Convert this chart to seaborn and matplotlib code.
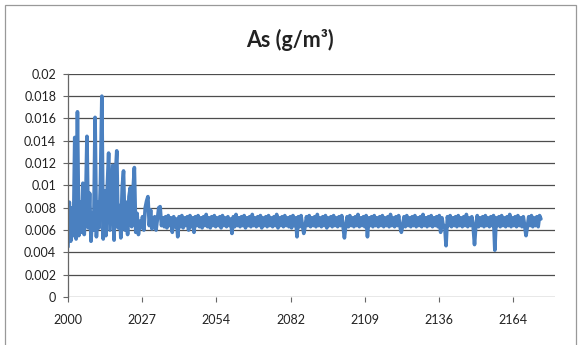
import matplotlib
matplotlib.use("Agg")
import matplotlib.pyplot as plt
import pandas as pd
import seaborn as sns

# As concentration (g/m3), half-yearly readings from 2000 onward
as_conc = [
    0.0045, 0.0085, 0.0050, 0.0080, 0.0055, 0.0143, 0.0052, 0.0166, 0.0055, 0.0085,
    0.0058, 0.0102, 0.0056, 0.0080, 0.0144, 0.0062, 0.0093, 0.0050, 0.0075, 0.0060,
    0.0161, 0.0054, 0.0085, 0.0062, 0.0105, 0.0180, 0.0052, 0.0095, 0.0055, 0.0098,
    0.0129, 0.0060, 0.0090, 0.0118, 0.0051, 0.0108, 0.0131, 0.0062, 0.0082, 0.0053,
    0.0098, 0.0113, 0.0060, 0.0085, 0.0056, 0.0090, 0.0098, 0.0063, 0.0095, 0.0116,
    0.0058, 0.0075, 0.0056, 0.0068, 0.0062, 0.0072, 0.0060, 0.0080, 0.0086, 0.0090,
    0.0064, 0.0078, 0.0061, 0.0066, 0.0072, 0.0060, 0.0070, 0.0080, 0.0081, 0.0064,
    0.0071, 0.0063, 0.0072, 0.0062, 0.0073, 0.0064, 0.0071, 0.0058, 0.0072, 0.0063,
    0.0070, 0.0054, 0.0072, 0.0063, 0.0073, 0.0062, 0.0071, 0.0064, 0.0072, 0.0060,
    0.0073, 0.0063, 0.0071, 0.0058, 0.0072, 0.0064, 0.0073, 0.0063, 0.0071, 0.0062,
    0.0072, 0.0064, 0.0074, 0.0063, 0.0071, 0.0062, 0.0072, 0.0064, 0.0073, 0.0063,
    0.0071, 0.0064, 0.0072, 0.0062, 0.0073, 0.0064, 0.0071, 0.0063, 0.0072, 0.0064,
    0.0070, 0.0057, 0.0072, 0.0063, 0.0074, 0.0064, 0.0071, 0.0063, 0.0072, 0.0064,
    0.0073, 0.0062, 0.0071, 0.0064, 0.0072, 0.0063, 0.0074, 0.0064, 0.0071, 0.0063,
    0.0072, 0.0064, 0.0073, 0.0062, 0.0071, 0.0064, 0.0072, 0.0063, 0.0073, 0.0064,
    0.0071, 0.0063, 0.0072, 0.0064, 0.0074, 0.0062, 0.0071, 0.0064, 0.0072, 0.0063,
    0.0073, 0.0064, 0.0071, 0.0063, 0.0072, 0.0062, 0.0073, 0.0064, 0.0071, 0.0054,
    0.0072, 0.0063, 0.0073, 0.0064, 0.0057, 0.0063, 0.0072, 0.0064, 0.0073, 0.0063,
    0.0071, 0.0064, 0.0072, 0.0063, 0.0074, 0.0064, 0.0071, 0.0063, 0.0072, 0.0064,
    0.0073, 0.0062, 0.0071, 0.0064, 0.0072, 0.0063, 0.0073, 0.0064, 0.0071, 0.0063,
    0.0072, 0.0064, 0.0073, 0.0063, 0.0053, 0.0064, 0.0072, 0.0063, 0.0073, 0.0064,
    0.0071, 0.0063, 0.0072, 0.0064, 0.0074, 0.0063, 0.0071, 0.0064, 0.0072, 0.0063,
    0.0073, 0.0054, 0.0071, 0.0064, 0.0072, 0.0063, 0.0073, 0.0064, 0.0071, 0.0063,
    0.0072, 0.0064, 0.0073, 0.0063, 0.0071, 0.0064, 0.0072, 0.0063, 0.0074, 0.0064,
    0.0071, 0.0063, 0.0072, 0.0064, 0.0073, 0.0063, 0.0058, 0.0064, 0.0072, 0.0063,
    0.0073, 0.0064, 0.0071, 0.0063, 0.0072, 0.0064, 0.0073, 0.0063, 0.0071, 0.0064,
    0.0072, 0.0063, 0.0074, 0.0064, 0.0071, 0.0063, 0.0072, 0.0064, 0.0073, 0.0063,
    0.0071, 0.0064, 0.0072, 0.0063, 0.0073, 0.0058, 0.0071, 0.0063, 0.0064, 0.0046,
    0.0072, 0.0064, 0.0073, 0.0063, 0.0071, 0.0064, 0.0072, 0.0063, 0.0073, 0.0064,
    0.0071, 0.0063, 0.0072, 0.0064, 0.0074, 0.0063, 0.0071, 0.0064, 0.0072, 0.0063,
    0.0047, 0.0064, 0.0073, 0.0063, 0.0071, 0.0064, 0.0072, 0.0063, 0.0073, 0.0064,
    0.0071, 0.0063, 0.0072, 0.0064, 0.0073, 0.0042, 0.0071, 0.0064, 0.0072, 0.0063,
    0.0073, 0.0064, 0.0071, 0.0063, 0.0072, 0.0064, 0.0074, 0.0063, 0.0071, 0.0064,
    0.0072, 0.0063, 0.0073, 0.0064, 0.0071, 0.0063, 0.0072, 0.0064, 0.0055, 0.0063,
    0.0072, 0.0064, 0.0073, 0.0063, 0.0071, 0.0064, 0.0072, 0.0063, 0.0073, 0.0070,
]
tick_labels = ["2000", "2027", "2054", "2082", "2109", "2136", "2164"]
y_ticks = [0, 0.002, 0.004, 0.006, 0.008, 0.01, 0.012, 0.014, 0.016, 0.018, 0.02]
y_labels = ["0", "0.002", "0.004", "0.006", "0.008", "0.01", "0.012",
            "0.014", "0.016", "0.018", "0.02"]

df = pd.DataFrame({
    "date": pd.date_range("2000-01-01", periods=len(as_conc), freq="6MS"),
    "As": as_conc,
})
# Excel labels every 10000th day with its year
tick_dates = pd.date_range("2000-01-01", periods=len(tick_labels), freq="10000D")

sns.set_style("white")
plt.rcParams["font.family"] = ["Lato", "DejaVu Sans"]

fig = plt.figure(figsize=(5.79, 3.45), dpi=100)
ax = fig.add_axes([0.1174, 0.139, 0.841, 0.647])

sns.lineplot(data=df, x="date", y="As", ax=ax, color="#4a80c0", linewidth=2.6)

ax.set_ylim(0, 0.02)
ax.set_yticks(y_ticks)
ax.set_yticklabels(y_labels, fontsize=9, color="#222222")
ax.set_xlim(pd.Timestamp("2000-01-01"), pd.Timestamp("2179-09-01"))
ax.set_xticks(tick_dates)
ax.set_xticklabels(tick_labels, fontsize=9, color="#222222")
ax.set_xlabel("")
ax.set_ylabel("")

ax.grid(axis="y", color="#4d4d4d", linewidth=0.9)
ax.set_axisbelow(True)
for side in ["top", "right", "bottom"]:
    ax.spines[side].set_visible(False)
ax.spines["left"].set_color("#666666")
ax.spines["left"].set_linewidth(0.9)
ax.tick_params(axis="y", left=True, length=3.5, width=0.8, color="#666666", pad=5)
ax.tick_params(axis="x", bottom=True, length=3.5, width=0.8, color="#666666", pad=9)

fig.text(0.5, 0.885, "As (g/m³)", ha="center", va="center",
         fontsize=15.5, fontweight="bold", color="#222222")

# chart area border
fig.add_artist(plt.Rectangle((0.009, -0.01), 0.985, 0.995, transform=fig.transFigure,
                             fill=False, edgecolor="#999999", linewidth=0.9))

fig.savefig("out.png", dpi=100)
